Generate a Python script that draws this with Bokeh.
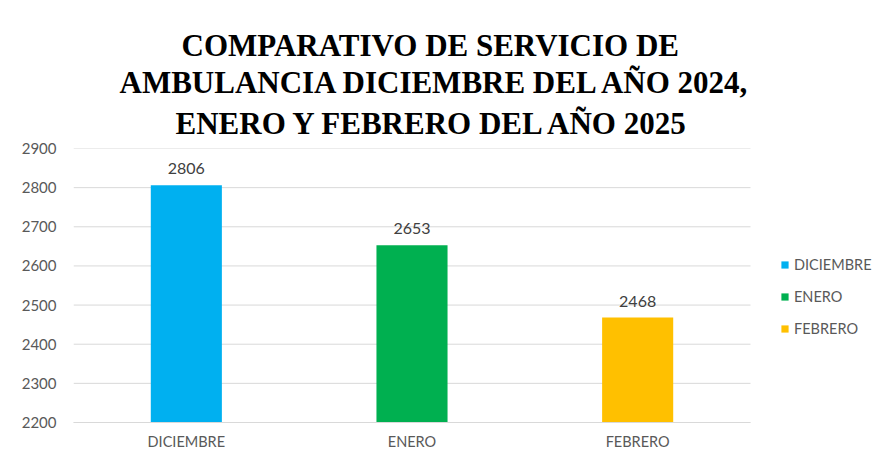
from bokeh.plotting import figure
from bokeh.models import ColumnDataSource, Range1d, Title, Legend, LegendItem, LabelSet, FixedTicker
from bokeh.core.properties import value
from bokeh.embed import file_html
from bokeh.resources import INLINE

meses = ["DICIEMBRE", "ENERO", "FEBRERO"]
servicios = [2806, 2653, 2468]
colores = ["#00B0F0", "#00B050", "#FFC000"]
y_ticks = [2200, 2300, 2400, 2500, 2600, 2700, 2800, 2900]
titulo = ["COMPARATIVO DE SERVICIO DE",
          "AMBULANCIA DICIEMBRE DEL AÑO 2024,",
          "ENERO Y FEBRERO DEL AÑO 2025"]

W, H = 878, 463
n = len(meses)
pos = [i + 0.5 for i in range(n)]          # category centres
x_end = n * 805 / 677                       # extra room on the right for the legend

p = figure(width=W, height=H, x_range=Range1d(0, x_end), y_range=Range1d(2200, 2900),
           output_backend="svg", toolbar_location=None,
           min_border_left=73, min_border_right=0, min_border_top=148, min_border_bottom=41)
p.outline_line_color = None

# horizontal gridlines limited to the category area
p.segment(x0=[0] * len(y_ticks), x1=[n] * len(y_ticks), y0=y_ticks, y1=y_ticks,
          line_color="#D9D9D9", line_width=1)

src = ColumnDataSource(dict(x=pos, top=servicios, lbl=[str(v) for v in servicios]))
items = []
for i, m in enumerate(meses):
    r = p.vbar(x=[pos[i]], top=[servicios[i]], bottom=2200, width=0.315, color=colores[i], line_color=None)
    items.append(LegendItem(label=m, renderers=[r]))

labels = LabelSet(x="x", y="top", text="lbl", source=src, text_align="center",
                  text_baseline="alphabetic", y_offset=11,
                  text_font=value("Lato"), text_font_size="16px", text_color="#404040")
p.add_layout(labels)

legend = Legend(items=items, location=(707, 84), padding=0, margin=0, border_line_color=None,
                background_fill_alpha=0, glyph_width=9, glyph_height=9, label_height=20, spacing=12,
                label_standoff=5, label_text_font="Lato", label_text_font_size="14.5px",
                label_text_color="#595959")
p.add_layout(legend, "center")

p.yaxis.ticker = FixedTicker(ticks=y_ticks)
p.yaxis.axis_line_color = None
p.yaxis.major_tick_line_color = None
p.yaxis.minor_tick_line_color = None
p.yaxis.major_label_standoff = 11
p.yaxis.major_label_text_font = "Lato"
p.yaxis.major_label_text_font_size = "15px"
p.yaxis.major_label_text_color = "#595959"

p.xaxis.ticker = FixedTicker(ticks=pos)
p.xaxis.major_label_overrides = {pos[i]: m for i, m in enumerate(meses)}
p.xaxis.bounds = (0, n)
p.xaxis.axis_line_color = "#D9D9D9"
p.xaxis.axis_line_width = 1
p.xaxis.major_tick_line_color = None
p.xaxis.minor_tick_line_color = None
p.xaxis.major_label_standoff = 4
p.xaxis.major_label_text_font = "Lato"
p.xaxis.major_label_text_font_size = "14.5px"
p.xaxis.major_label_text_color = "#595959"

p.xgrid.grid_line_color = None
p.ygrid.grid_line_color = None

# title lines stacked above the frame (closest line added first)
offsets = [108, 46, 102]
standoffs = [0, 0, 12]
valigns = ["bottom", "bottom", "top"]
for t, off, so, va in reversed(list(zip(titulo, offsets, standoffs, valigns))):
    p.add_layout(Title(text=t, align="left", offset=off, standoff=so, vertical_align=va,
                       text_font="Liberation Serif", text_font_style="bold",
                       text_font_size="31px", text_color="#000000"), "above")

open("out.html", "w").write(file_html(p, INLINE))
